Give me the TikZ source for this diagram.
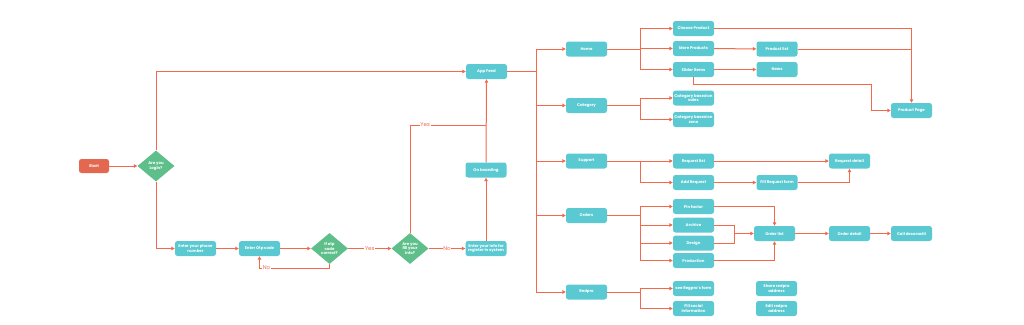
\documentclass[tikz,border=0pt]{standalone}
\usepackage{fontspec}
\setmainfont{Poppins}
\usetikzlibrary{shapes.geometric,arrows.meta}
\definecolor{tealbox}{HTML}{5BC9D1}
\definecolor{greendia}{HTML}{5EBF8B}
\definecolor{linec}{HTML}{F2694C}
\definecolor{startc}{HTML}{E2694F}
\tikzset{
  box/.style={rectangle, rounded corners=2.5pt, fill=tealbox, minimum width=41pt, minimum height=15pt,
    inner sep=0.5pt, align=center, text=white, font=\fontsize{3.9}{4.6}\selectfont\bfseries},
  startbox/.style={box, fill=startc, minimum width=30pt, minimum height=14pt},
  dia/.style={diamond, fill=greendia, minimum width=37pt, minimum height=31pt, inner sep=0pt,
    align=center, text=white, font=\fontsize{3.9}{4.4}\selectfont\bfseries},
  conn/.style={draw=linec, line width=1pt},
  arr/.style={conn, -{Triangle[length=3.4pt,width=3.4pt]}},
  lbl/.style={fill=white, text=linec, inner sep=0.6pt, font=\fontsize{5.5}{6}\selectfont}
}
\begin{document}
\begin{tikzpicture}[x=1pt,y=-1pt]
\useasboundingbox (0,0) rectangle (1024,324);
% left part
\node[startbox] (start) at (94,166) {Start};
\node[dia] (login) at (156,166) {Are you\\Login?};
\node[box] (feed) at (486.5,71.5) {App Feed};
\node[box] (phone) at (195.5,248.5) {Enter your phone\\number};
\node[box] (otp) at (259.5,248.5) {Enter Otp code};
\node[dia] (otpok) at (329.5,248.5) {If otp\\code\\correct?};
\node[dia] (fill) at (410,248.5) {Are you\\fill your\\Info?};
\node[box] (info) at (486,248.5) {Enter your info for\\register in system};
\node[box] (onb) at (486,170) {On boarding};
% level 1
\node[box] (home) at (586.5,49) {Home};
\node[box] (cat) at (586.5,105.5) {Category};
\node[box] (sup) at (586.5,161) {Support};
\node[box] (ord) at (586.5,215.5) {Orders};
\node[box] (red) at (586.5,292) {Redpro};
% level 2
\node[box] (choose) at (693.5,28.5) {Choose Product};
\node[box] (more) at (693.5,48.5) {More Products};
\node[box] (slider) at (693.5,69.5) {Slider Items};
\node[box] (csales) at (693.5,98) {Category based on\\sales};
\node[box] (czone) at (693.5,119.5) {Category based on\\zone};
\node[box] (rlist) at (693.5,161) {Request list};
\node[box] (addr) at (693.5,182.5) {Add Request};
\node[box] (pin) at (693.5,206.5) {Pin factor};
\node[box] (arch) at (693.5,225) {Archive};
\node[box] (des) at (693.5,243) {Design};
\node[box] (prod) at (693.5,260.5) {Production};
\node[box] (see) at (693.5,288.5) {see Regpro's form};
\node[box] (social) at (693.5,308.5) {Fill social\\information};
% level 3
\node[box] (plist) at (777,49) {Product list};
\node[box] (news) at (777,69.5) {News};
\node[box] (ppage) at (911.5,110.5) {Product Page};
\node[box] (rdet) at (849.5,161) {Request detail};
\node[box] (frf) at (777,182.5) {Fill Request form};
\node[box] (olist) at (774.5,233.5) {Order list};
\node[box] (odet) at (849.5,233.5) {Order detail};
\node[box] (call) at (911.5,233.5) {Call decorasiti};
\node[box] (share) at (776.5,288.5) {Share redpro\\address};
\node[box] (edit) at (776.5,308.5) {Edit redpro\\address};
% coordinates
\coordinate (t1) at (536,71.5);
\coordinate (jy) at (486,125);
\coordinate (loopb) at (329.5,268);
\coordinate (sl) at (871,84);
\coordinate (ad) at (734,233.5);
% left connectors
\draw[arr] (start) -- (login);
\draw[arr] (login.north) |- (feed.west);
\draw[arr] (login.south) |- (phone.west);
\draw[arr] (phone) -- (otp);
\draw[arr] (otp) -- (otpok);
\draw[arr] (otpok.south) -- (loopb) -| node[lbl, pos=0.45] {No} (otp.south);
\draw[arr] (otpok) -- node[lbl] {Yes} (fill);
\draw[arr] (fill) -- node[lbl] {No} (info);
\draw[conn] (fill.north) |- node[lbl, pos=0.6] {Yes} (jy);
\draw[arr] (info) -- (onb);
\draw[arr] (onb) -- (feed);
% trunk
\draw[conn] (feed.east) -- (t1);
\draw[arr] (t1) |- (home.west);
\draw[arr] (t1) |- (cat.west);
\draw[arr] (t1) |- (sup.west);
\draw[arr] (t1) |- (ord.west);
\draw[arr] (t1) |- (red.west);
% branches
\draw[conn] (home.east) -- (640,49) coordinate (bh);
\draw[arr] (bh) |- (choose.west);
\draw[arr] (bh) |- (more.west);
\draw[arr] (bh) |- (slider.west);
\draw[conn] (cat.east) -- (640,105.5) coordinate (bc);
\draw[arr] (bc) |- (csales.west);
\draw[arr] (bc) |- (czone.west);
\draw[conn] (sup.east) -- (640,161) coordinate (bs);
\draw[arr] (bs) |- (rlist.west);
\draw[arr] (bs) |- (addr.west);
\draw[conn] (ord.east) -- (640,215.5) coordinate (bo);
\draw[arr] (bo) |- (pin.west);
\draw[arr] (bo) |- (arch.west);
\draw[arr] (bo) |- (des.west);
\draw[arr] (bo) |- (prod.west);
\draw[conn] (red.east) -- (640,292) coordinate (br);
\draw[arr] (br) |- (see.west);
\draw[arr] (br) |- (social.west);
% level 3 connectors
\draw[arr] (more) -- (plist);
\draw[arr] (slider) -- (news);
\draw[arr] (choose.east) -| (ppage.north);
\draw[conn] (plist.east) -- (ppage.north |- plist.east);
\draw[arr] (slider.south) |- (sl) |- (ppage.west);
\draw[arr] (rlist) -- (rdet);
\draw[arr] (addr) -- (frf);
\draw[arr] (frf.east) -| (rdet.south);
\draw[arr] (pin.east) -| (olist.north);
\draw[arr] (prod.east) -| (olist.south);
\draw[conn] (arch.east) -| (ad);
\draw[conn] (des.east) -| (ad);
\draw[arr] (ad) -- (olist.west);
\draw[arr] (olist) -- (odet);
\draw[arr] (odet) -- (call);
\end{tikzpicture}
\end{document}
